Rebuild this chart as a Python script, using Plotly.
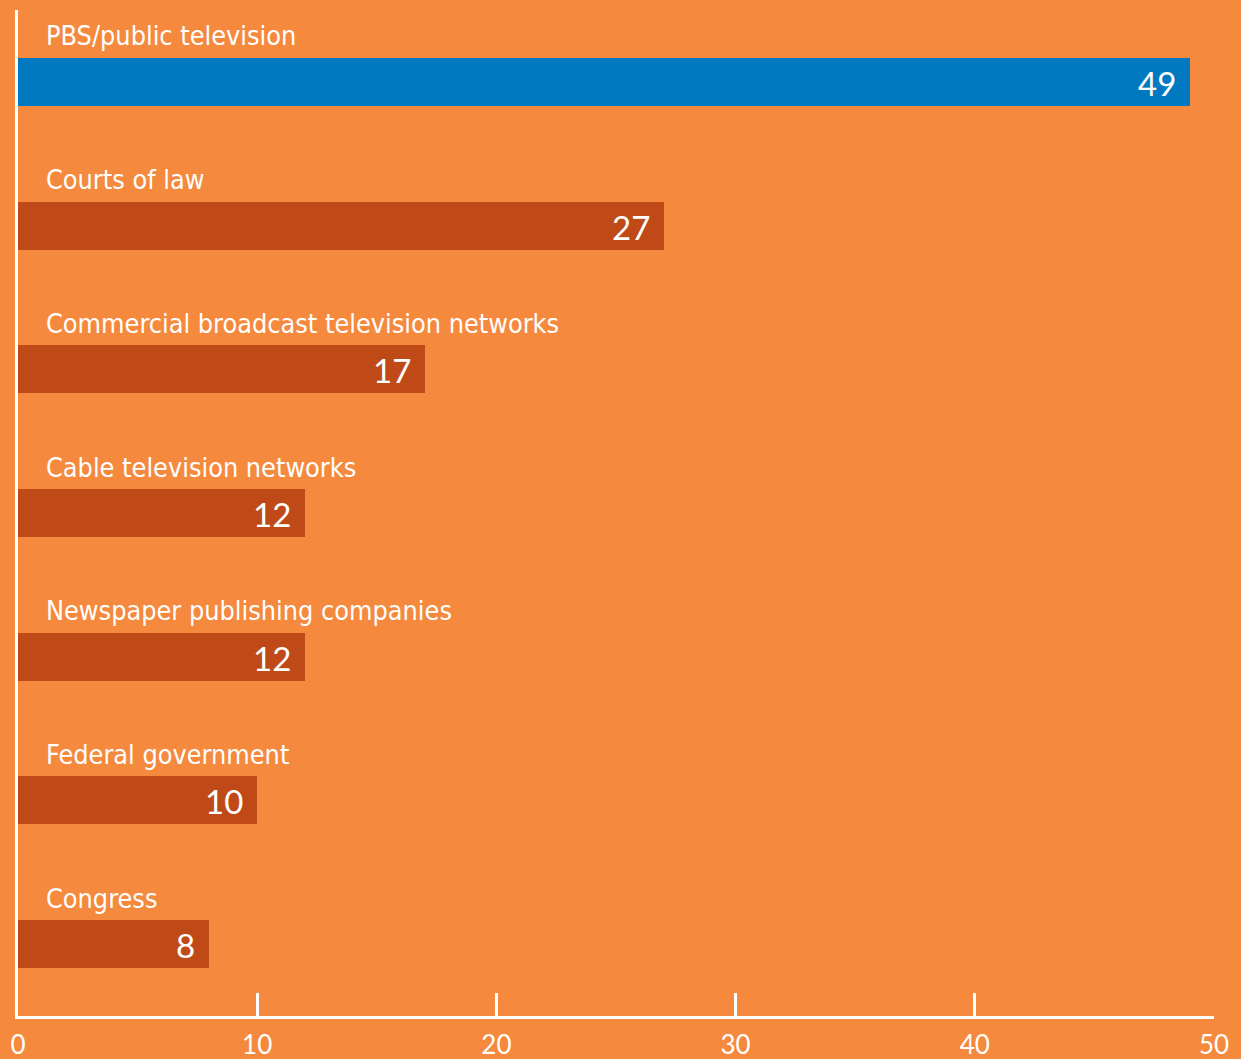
import plotly.graph_objects as go

categories = ["PBS/public television", "Courts of law", "Commercial broadcast television networks",
              "Cable television networks", "Newspaper publishing companies", "Federal government", "Congress"]
values = [49, 27, 17, 12, 12, 10, 8]
bar_colors = ["#0079C1", "#BF4A17", "#BF4A17", "#BF4A17", "#BF4A17", "#BF4A17", "#BF4A17"]
tick_vals = [0, 10, 20, 30, 40, 50]
tick_text = ["0", "10", "20", "30", "40", "50"]

fig = go.Figure(go.Bar(
    x=values, y=categories, orientation="h",
    marker=dict(color=bar_colors, line=dict(width=0)),
    width=0.334, hoverinfo="skip",
))

label_font = dict(family="DejaVu Sans Condensed, Liberation Sans Narrow, sans-serif", size=26.8, color="white")
value_font = dict(family="Lato, Open Sans, sans-serif", size=33, color="white")

for cat, v in zip(categories, values):
    fig.add_annotation(x=0, y=cat, text=cat, showarrow=False, xanchor="left", yanchor="middle",
                       xshift=26, yshift=46, font=label_font)
    fig.add_annotation(x=v, y=cat, text=str(v), showarrow=False, xanchor="right", yanchor="middle",
                       xshift=-12, yshift=-1, font=value_font)

fig.update_layout(
    width=1241, height=1059,
    margin=dict(l=18, r=27, t=10, b=43),
    paper_bgcolor="#F5893D", plot_bgcolor="rgba(0,0,0,0)",
    showlegend=False, bargap=0,
    xaxis=dict(range=[0, 50], tickvals=tick_vals, ticktext=tick_text, showgrid=False, zeroline=False,
               showline=True, linecolor="white", linewidth=3, ticks="inside", ticklen=23,
               tickwidth=2.5, tickcolor="white", ticklabelstandoff=4, automargin=False,
               tickfont=dict(family="Lato, Open Sans, sans-serif", size=26, color="white")),
    yaxis=dict(autorange="reversed", showticklabels=False, showgrid=False, zeroline=False,
               showline=True, linecolor="white", linewidth=3, ticks="", automargin=False),
)

fig.write_html("out.html", config={"displayModeBar": False},
               post_script="document.body.style.margin='0';document.body.style.overflow='hidden';")
